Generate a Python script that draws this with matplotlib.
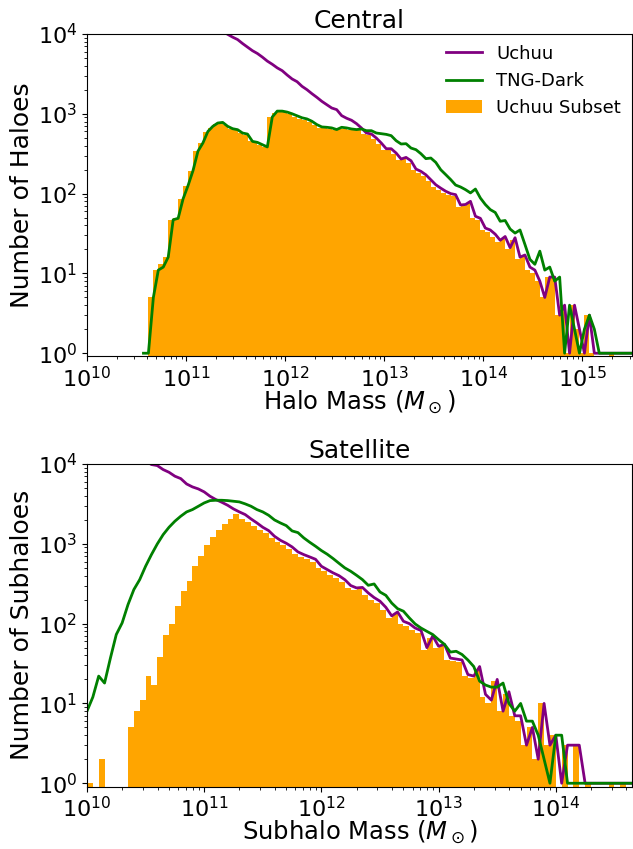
import numpy as np
import matplotlib
matplotlib.use('Agg')
import matplotlib.pyplot as plt

# bin width in log10(M); each value belongs to the bin ending at start + k*DLOGM
DLOGM = 0.05

# --- Central haloes ---
central_logm_start = 10.57
central_uchuu = [49000, 44500, 40500, 36800, 33500, 30500, 27800, 25300, 23000, 21000,
                 19100, 17400, 15800, 14400, 13100, 11900, 10800, 9890, 9120, 8510,
                 7590, 6840, 6170, 5690, 5130, 4570, 4170, 3760, 3467, 3060,
                 2730, 2525, 2208, 2004, 1786, 1606, 1432, 1300, 1181, 1127,
                 948, 879, 829, 752, 663, 574, 558, 497, 430, 365,
                 365, 322, 271, 284, 258, 203, 190, 172, 149, 129,
                 117, 107, 100, 97, 72, 73, 80, 52, 49, 37,
                 35, 31, 26, 29, 21, 28, 16, 17, 12, 11,
                 8, 5, 9, 9, 3, 4, 1, 4, 2, 1,
                 3, 1, 1, 1, 1, 1, 1, 1, 1, 1]
central_tng = [1, 1, 5, 11, 12, 16, 47, 49, 86, 126,
               194, 340, 431, 600, 696, 766, 780, 696, 650, 632,
               574, 557, 451, 438, 410, 384, 912, 1080, 1080, 1050,
               1000, 944, 891, 862, 806, 732, 684, 677, 665, 634,
               677, 665, 645, 634, 645, 614, 614, 574, 563, 552,
               532, 460, 418, 422, 372, 355, 316, 274, 279, 246,
               199, 173, 150, 128, 121, 112, 102, 114, 88, 73,
               63, 58, 45, 46, 36, 32, 35, 23, 15, 13,
               19, 11, 12, 8, 9, 1, 4, 2, 1, 2,
               3, 2, 1, 1, 1, 1, 1, 1, 1, 1]
central_subset = [0, 0, 5, 11, 13, 16, 47, 49, 86, 126,
                  194, 345, 431, 592, 664, 745, 781, 720, 650, 632,
                  574, 547, 451, 438, 410, 384, 912, 1023, 1070, 1040,
                  980, 920, 870, 840, 790, 720, 670, 660, 650, 630,
                  650, 645, 630, 620, 620, 560, 540, 480, 420, 350,
                  350, 310, 260, 270, 245, 195, 182, 165, 142, 122,
                  111, 102, 95, 92, 68, 70, 76, 50, 47, 35,
                  33, 29, 25, 27, 20, 26, 15, 16, 11, 10,
                  8, 5, 9, 9, 3, 4, 1, 4, 2, 1,
                  3, 1, 0, 0, 0, 1, 0, 0, 0, 0]

# --- Satellite subhaloes ---
satellite_logm_start = 10.0
satellite_uchuu = [28400, 25800, 23400, 21300, 19400, 17600, 16000, 14500, 13200, 12000,
                   10900, 9840, 9550, 8510, 7870, 7030, 6560, 5620, 5160, 4870,
                   4470, 3940, 3580, 3315, 3040, 2735, 2510, 2323, 2048, 1826,
                   1611, 1463, 1242, 1107, 1016, 914, 791, 732, 685, 640,
                   523, 475, 432, 399, 355, 300, 280, 284, 242, 212,
                   191, 160, 125, 140, 107, 100, 88, 82, 50, 70,
                   52, 55, 37, 36, 35, 23, 22, 29, 13, 11,
                   20, 8, 14, 7, 7, 3, 5, 2, 10, 3,
                   4, 1, 3, 3, 3, 1, 1, 1, 1, 1,
                   1, 1, 1, 1]
satellite_tng = [8, 12, 22, 18, 37, 73, 102, 173, 267, 356,
                 523, 732, 996, 1303, 1611, 1918, 2215, 2509, 2683, 2952,
                 3251, 3477, 3511, 3511, 3477, 3413, 3349, 3162, 2952, 2683,
                 2509, 2277, 1990, 1825, 1690, 1450, 1381, 1185, 1046, 932,
                 823, 740, 653, 570, 499, 453, 403, 356, 302, 314,
                 249, 226, 181, 154, 143, 118, 99, 88, 80, 73,
                 63, 55, 44, 45, 41, 35, 29, 19, 17, 16,
                 16, 18, 10, 8, 10, 6, 6, 4, 2, 1,
                 4, 4, 1, 1, 1, 1, 1, 1, 1, 1,
                 1, 1, 1, 1]
satellite_subset = [0, 1, 0, 2, 0, 0, 0, 0, 5, 8,
                    11, 22, 17, 38, 73, 100, 168, 254, 346, 523,
                    711, 977, 1208, 1507, 1791, 2069, 2367, 2050, 1850, 1660,
                    1507, 1370, 1190, 1050, 960, 860, 750, 690, 640, 600,
                    495, 450, 405, 375, 330, 280, 262, 268, 228, 198,
                    180, 150, 117, 133, 100, 94, 82, 77, 47, 66,
                    49, 52, 35, 34, 33, 22, 21, 27, 12, 10,
                    19, 8, 13, 7, 6, 3, 5, 2, 10, 3,
                    4, 0, 3, 0, 3, 0, 1, 0, 0, 0,
                    1, 0, 1, 0]


def draw_panel(ax, logm_start, uchuu, tng, subset, title, xlabel, ylabel, xmax):
    logm_hi = logm_start + DLOGM * np.arange(len(uchuu))
    hi = 10 ** logm_hi
    lo = 10 ** (logm_hi - DLOGM)

    ax.set_xscale('log')
    ax.set_yscale('log')
    bars = ax.bar(lo, subset, width=hi - lo, align='edge', color='orange',
                  linewidth=0, label='Uchuu Subset')
    l1, = ax.plot(hi, uchuu, color='purple', lw=2, label='Uchuu')
    l2, = ax.plot(hi, tng, color='green', lw=2, label='TNG-Dark')

    ax.set_xlim(1e10, xmax)
    ax.set_ylim(0.91, 1e4)
    ax.set_title(title, fontsize=18, pad=4)
    ax.set_xlabel(xlabel, fontsize=17.5, labelpad=-2)
    ax.set_ylabel(ylabel, fontsize=18, labelpad=3)
    ax.tick_params(axis='both', which='major', labelsize=16)
    return [l1, l2, bars]


fig = plt.figure(figsize=(6.33, 8.49), dpi=100)
ax1 = fig.add_axes([0.1374, 0.5801, 0.861, 0.3799])
ax2 = fig.add_axes([0.1374, 0.0736, 0.861, 0.3799])

handles = draw_panel(ax1, central_logm_start, central_uchuu, central_tng, central_subset,
                     'Central', r'Halo Mass ($M_\odot$)', 'Number of Haloes', 10 ** 15.5)
draw_panel(ax2, satellite_logm_start, satellite_uchuu, satellite_tng, satellite_subset,
           'Satellite', r'Subhalo Mass ($M_\odot$)', 'Number of Subhaloes', 10 ** 14.65)

ax1.legend(handles=handles, loc='upper right', frameon=False, fontsize=13,
           borderaxespad=0.2)

fig.savefig('out.png', dpi=100)
